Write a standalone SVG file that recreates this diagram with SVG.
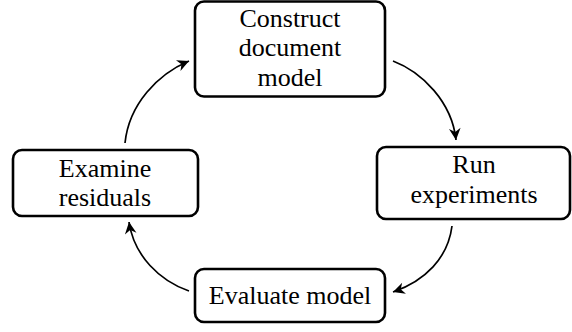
<svg xmlns="http://www.w3.org/2000/svg" width="572" height="332" viewBox="0 0 572 332">
<style>
.box{fill:#fff;stroke:#000;stroke-width:2.6}
.t{font-family:"Liberation Serif","Times New Roman",serif;font-size:26px;text-anchor:middle;fill:#000}
.c{fill:none;stroke:#000;stroke-width:1.7}
</style>
<defs>
<marker id="ah" markerUnits="userSpaceOnUse" markerWidth="14" markerHeight="14" viewBox="-11 -6 12 12" refX="0" refY="0" orient="auto">
<path d="M0,0 L-10,-5 L-7,0 L-10,5 Z" fill="#000"/>
</marker>
</defs>
<rect width="572" height="332" fill="#fff"/>
<g id="connectors">
<path class="c" d="M393,61 C422,72 452,102 456,140" marker-end="url(#ah)"/>
<path class="c" d="M452,226 C448,258 425,281 393,292" marker-end="url(#ah)"/>
<path class="c" d="M189,291 C160,281 134,256 129,222" marker-end="url(#ah)"/>
<path class="c" d="M125,143 C129,104 158,74 189,61" marker-end="url(#ah)"/>
</g>
<g id="construct">
<rect class="box" x="195" y="1.5" width="190" height="95" rx="9"/>
<text class="t" x="290" y="27">Construct</text>
<text class="t" x="290" y="56">document</text>
<text class="t" x="290" y="86">model</text>
</g>
<g id="run">
<rect class="box" x="377" y="147" width="193" height="72" rx="9"/>
<text class="t" x="474" y="173">Run</text>
<text class="t" x="474" y="203">experiments</text>
</g>
<g id="evaluate">
<rect class="box" x="195" y="269" width="190" height="53" rx="9"/>
<text class="t" x="290" y="304">Evaluate model</text>
</g>
<g id="examine">
<rect class="box" x="13" y="150" width="185" height="66" rx="9"/>
<text class="t" x="105" y="177">Examine</text>
<text class="t" x="105" y="206">residuals</text>
</g>
</svg>
